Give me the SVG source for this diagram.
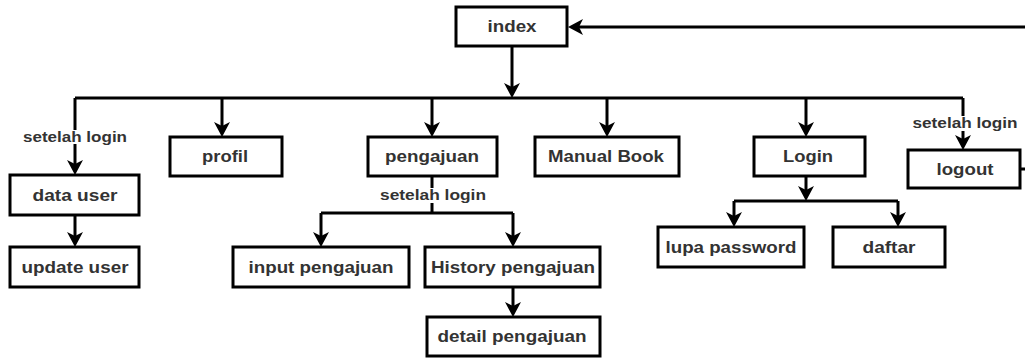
<svg xmlns="http://www.w3.org/2000/svg" width="1025" height="358" viewBox="0 0 1025 358">
<style>
.box{fill:#fff;stroke:#000;stroke-width:3}
.lbl{font-family:"Liberation Sans",Arial,sans-serif;font-size:17px;font-weight:bold;fill:#333;text-anchor:middle}
.sl{font-family:"Liberation Sans",Arial,sans-serif;font-size:15px;font-weight:bold;fill:#333;text-anchor:middle}
.ln{fill:none;stroke:#000;stroke-width:3}
.ar{marker-end:url(#arr)}
.bg{fill:#fff}
</style>
<defs>
<marker id="arr" markerUnits="userSpaceOnUse" markerWidth="30" markerHeight="30" refX="0" refY="0" orient="auto" overflow="visible">
<path d="M11,0 L-4,-8 L0,0 L-4,8 Z" fill="#000"/>
</marker>
</defs>
<rect width="1025" height="358" fill="#fff"/>
<g id="connectors">
<path class="ln ar" d="M512,46 V87"/>
<path class="ln" d="M75,98 H963"/>
<path class="ln ar" d="M75,98 V164"/>
<path class="ln ar" d="M222,98 V126"/>
<path class="ln ar" d="M432,98 V126"/>
<path class="ln ar" d="M607,98 V126"/>
<path class="ln ar" d="M806,98 V126"/>
<path class="ln ar" d="M963,98 V139"/>
<path class="ln ar" d="M75,215 V236"/>
<path class="ln" d="M432,176 V213 M321,213 H513"/>
<path class="ln ar" d="M321,213 V236"/>
<path class="ln ar" d="M513,213 V236"/>
<path class="ln ar" d="M513,287 V306"/>
<path class="ln ar" d="M806,176 V190"/>
<path class="ln" d="M734,201 H898"/>
<path class="ln ar" d="M734,201 V216"/>
<path class="ln ar" d="M898,201 V216"/>
<path class="ln ar" d="M1020,169 H1040 V27 H579"/>
<rect class="bg" x="22" y="130" width="106" height="14"/>
<text class="sl" x="75" y="142" textLength="104" lengthAdjust="spacingAndGlyphs">setelah login</text>
<rect class="bg" x="911" y="116" width="108" height="15"/>
<text class="sl" x="965" y="128" textLength="105" lengthAdjust="spacingAndGlyphs">setelah login</text>
<rect class="bg" x="379" y="188" width="108" height="15"/>
<text class="sl" x="433" y="200" textLength="106" lengthAdjust="spacingAndGlyphs">setelah login</text>
</g>
<g id="index"><rect class="box" x="456" y="7" width="111" height="39"/><text class="lbl" x="512" y="32" textLength="49" lengthAdjust="spacingAndGlyphs">index</text></g>
<g id="data-user"><rect class="box" x="10" y="175" width="129" height="40"/><text class="lbl" x="75" y="201" textLength="85" lengthAdjust="spacingAndGlyphs">data user</text></g>
<g id="update-user"><rect class="box" x="10" y="247" width="129" height="40"/><text class="lbl" x="75" y="273" textLength="107" lengthAdjust="spacingAndGlyphs">update user</text></g>
<g id="profil"><rect class="box" x="170" y="137" width="112" height="39"/><text class="lbl" x="225" y="162" textLength="46" lengthAdjust="spacingAndGlyphs">profil</text></g>
<g id="pengajuan"><rect class="box" x="368" y="137" width="129" height="39"/><text class="lbl" x="432" y="162" textLength="94" lengthAdjust="spacingAndGlyphs">pengajuan</text></g>
<g id="manual-book"><rect class="box" x="535" y="137" width="144" height="39"/><text class="lbl" x="606" y="162" textLength="116" lengthAdjust="spacingAndGlyphs">Manual Book</text></g>
<g id="login"><rect class="box" x="754" y="137" width="111" height="39"/><text class="lbl" x="808" y="162" textLength="50" lengthAdjust="spacingAndGlyphs">Login</text></g>
<g id="logout"><rect class="box" x="908" y="150" width="112" height="38"/><text class="lbl" x="965" y="175" textLength="57" lengthAdjust="spacingAndGlyphs">logout</text></g>
<g id="input-pengajuan"><rect class="box" x="233" y="247" width="176" height="40"/><text class="lbl" x="321" y="273" textLength="145" lengthAdjust="spacingAndGlyphs">input pengajuan</text></g>
<g id="history-pengajuan"><rect class="box" x="425" y="247" width="175" height="40"/><text class="lbl" x="513" y="273" textLength="164" lengthAdjust="spacingAndGlyphs">History pengajuan</text></g>
<g id="detail-pengajuan"><rect class="box" x="427" y="317" width="173" height="39"/><text class="lbl" x="512" y="342" textLength="149" lengthAdjust="spacingAndGlyphs">detail pengajuan</text></g>
<g id="lupa-password"><rect class="box" x="658" y="227" width="146" height="40"/><text class="lbl" x="731" y="253" textLength="131" lengthAdjust="spacingAndGlyphs">lupa password</text></g>
<g id="daftar"><rect class="box" x="833" y="227" width="112" height="40"/><text class="lbl" x="889" y="253" textLength="53" lengthAdjust="spacingAndGlyphs">daftar</text></g>
</svg>
